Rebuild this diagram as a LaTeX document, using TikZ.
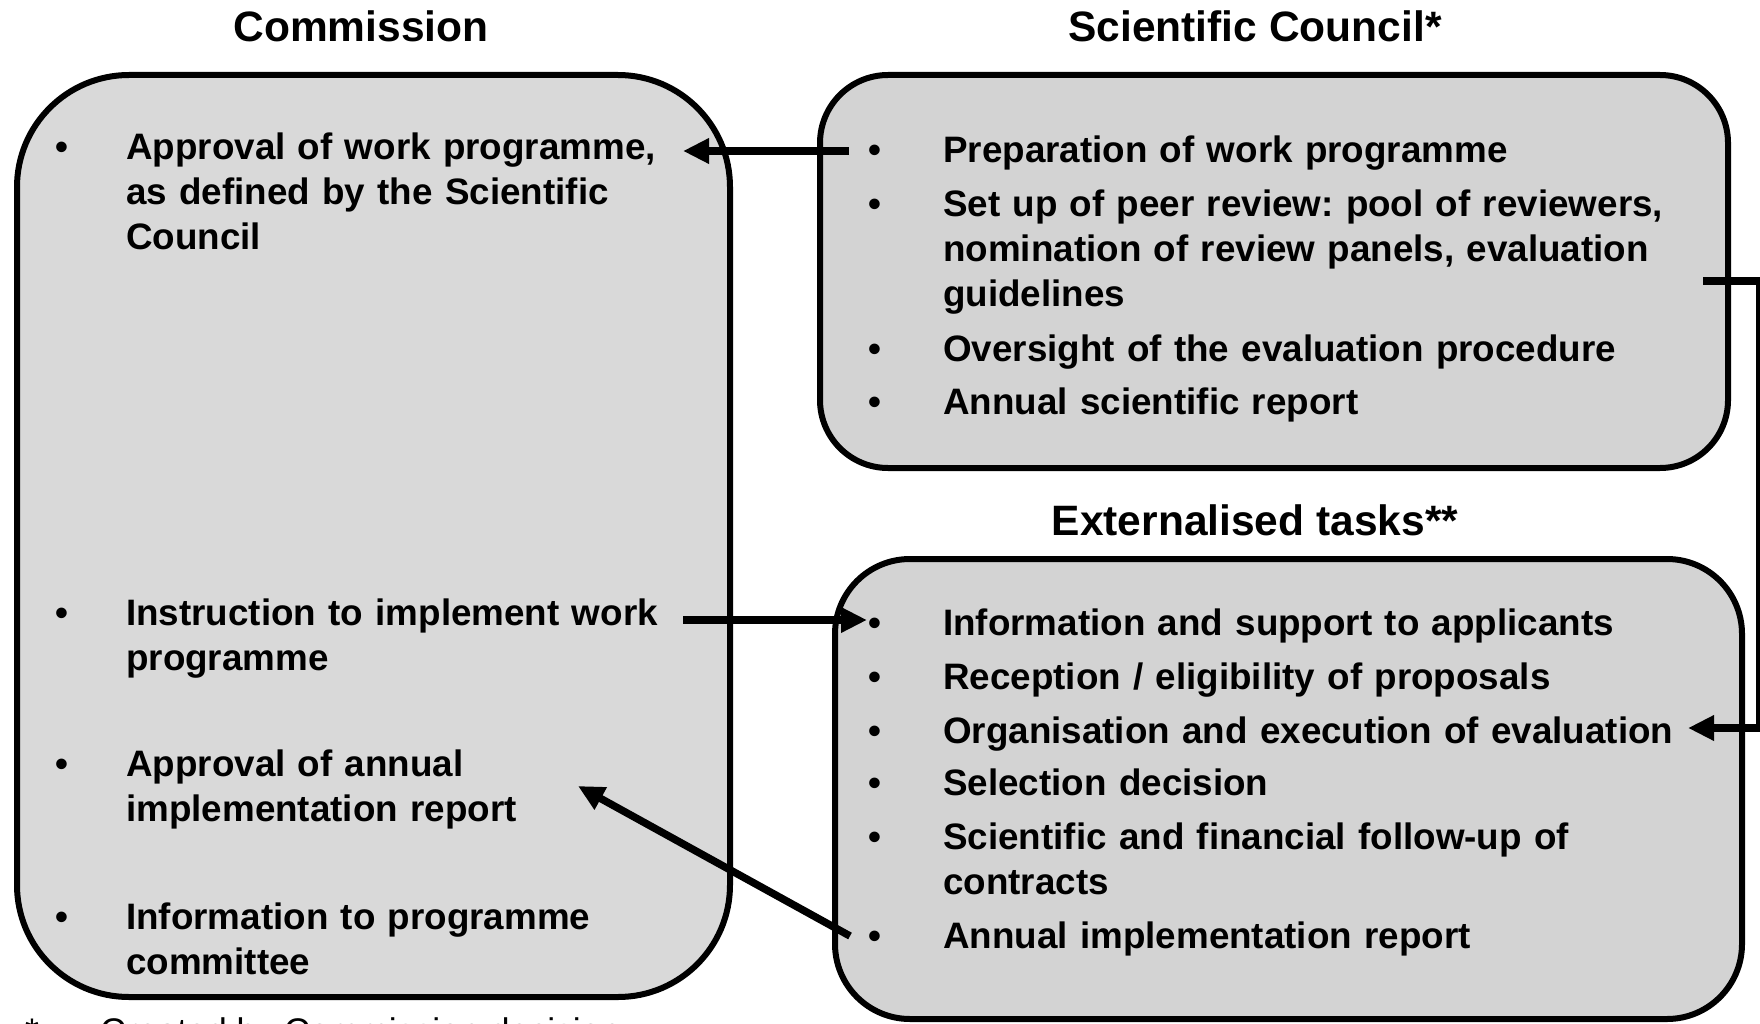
\documentclass[tikz,border=0pt]{standalone}
\usepackage{fontspec}
\setmainfont{Liberation Sans}
\usetikzlibrary{arrows.meta}
\frenchspacing
\definecolor{commfill}{RGB}{217,217,217}
\definecolor{scfill}{RGB}{211,211,211}
\newcommand\ercbody{\bfseries\fontsize{36.8}{45}\selectfont\frenchspacing}
\newcommand\ercitem[5]{%
  \node[bul] (#1-b) at (#2,#4) {•};
  \node[itm] (#1) at (#3,#4) {#5};
}
\begin{document}
\begin{tikzpicture}[x=1pt,y=-1pt,
  box/.style={draw=black, line width=6pt, rounded corners=#1, inner sep=0pt},
  bul/.style={anchor=base, inner sep=0pt, font=\ercbody},
  itm/.style={anchor=base west, inner sep=0pt, text width=800pt, align=left, font=\ercbody},
  ttl/.style={anchor=base, inner sep=0pt, font=\bfseries\fontsize{42.5}{50}\selectfont},
  conn/.style={line width=7.5pt, -{Triangle[length=26pt,width=24pt]}}
]
\useasboundingbox (0,0) rectangle (1760,1024);
% boxes
\node[box=112pt, fill=commfill, minimum width=713pt, minimum height=922pt] (comm) at (373.5,536) {};
\node[box=68pt, fill=scfill, minimum width=908pt, minimum height=393pt] (sc) at (1274,271.5) {};
\node[box=75pt, fill=scfill, minimum width=907pt, minimum height=460pt] (ext) at (1288.5,789) {};
% titles
\node[ttl] (t-comm) at (361,42) {Commission};
\node[ttl] (t-sc) at (1255,42) {Scientific Council*};
\node[ttl] (t-ext) at (1255,535) {Externalised tasks**};
% commission items
\ercitem{c1}{62}{126}{160}{Approval of work programme,\\as defined by the Scientific\\Council}
\ercitem{c2}{62}{126}{625}{Instruction to implement work\\programme}
\ercitem{c3}{62}{126}{776}{Approval of annual\\implementation report}
\ercitem{c4}{62}{126}{929}{Information to programme\\committee}
% scientific council items
\ercitem{s1}{875}{943}{163}{Preparation of work programme}
\ercitem{s2}{875}{943}{217}{Set up of peer review: pool of reviewers,\\nomination of review panels, evaluation\\guidelines}
\ercitem{s3}{875}{943}{361}{Oversight of the evaluation procedure}
\ercitem{s4}{875}{943}{414}{Annual scientific report}
% externalised items
\ercitem{e1}{875}{943}{635}{Information and support to applicants}
\ercitem{e2}{875}{943}{689}{Reception / eligibility of proposals}
\ercitem{e3}{875}{943}{743}{Organisation and execution of evaluation}
\ercitem{e4}{875}{943}{795}{Selection decision}
\ercitem{e5}{875}{943}{849}{Scientific and financial follow-up of\\contracts}
\ercitem{e6}{875}{943}{948}{Annual implementation report}
% footnote (cut by the page edge, as in the reference)
\node[anchor=base west, inner sep=0pt, font=\fontsize{35.6}{40}\selectfont] (fn-star) at (25,1043) {*};
\node[anchor=base west, inner sep=0pt, font=\fontsize{35.6}{40}\selectfont] (fn-text) at (100,1043) {Created by Commission decision};
% connectors
\coordinate (a1s) at (849,151); \coordinate (a1e) at (683,151);
\draw[conn] (a1s) -- (a1e);
\coordinate (a2s) at (683,620); \coordinate (a2e) at (867,620);
\draw[conn] (a2s) -- (a2e);
\coordinate (a3s) at (850,936); \coordinate (a3e) at (578,786);
\draw[conn] (a3s) -- (a3e);
\coordinate (r1) at (1703,281); \coordinate (r2) at (1760,281);
\coordinate (r3) at (1760,728); \coordinate (r4) at (1688,728);
\draw[conn] (r1) -- (r2) -- (r3) -- (r4);
\end{tikzpicture}
\end{document}
